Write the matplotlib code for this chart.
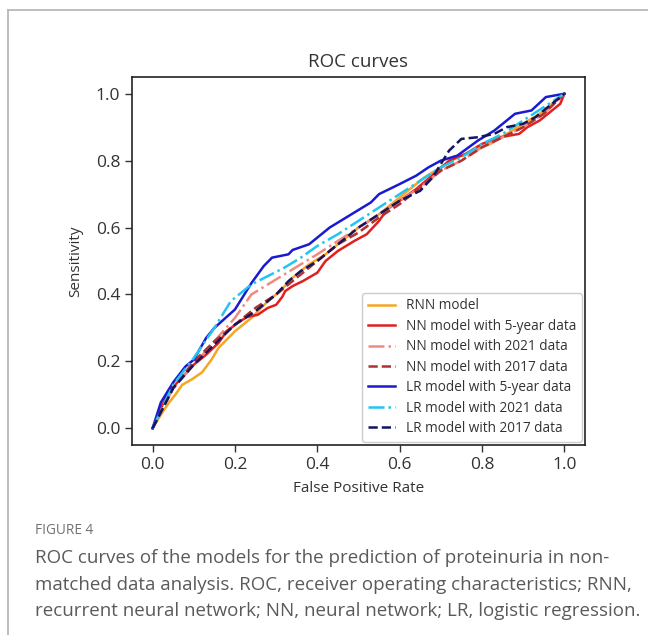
import matplotlib
matplotlib.use("Agg")
import matplotlib.pyplot as plt
from matplotlib.lines import Line2D

# ---- data ----
rnn_x = [0, .024, .04, .055, .072, .095, .12, .143, .16, .20, .24, .28, .31, .34, .38, .42, .46, .50, .54, .58, .62, .66, .70, .74, .78, .82, .86, .90, .94, .97, 1.0]
rnn_y = [0, .048, .077, .10, .13, .146, .167, .205, .24, .29, .33, .38, .41, .45, .49, .52, .56, .60, .63, .67, .71, .75, .78, .81, .83, .85, .88, .91, .94, .97, 1.0]

nn5_x = [0, .02, .04, .07, .10, .13, .16, .18, .21, .23, .255, .28, .30, .315, .322, .34, .365, .40, .42, .45, .49, .52, .55, .57, .60, .64, .685, .72, .76, .80, .84, .89, .91, .94, .97, .99, 1.0]
nn5_y = [0, .06, .11, .15, .19, .22, .255, .29, .318, .333, .339, .36, .369, .393, .41, .425, .44, .465, .50, .53, .56, .58, .62, .655, .68, .715, .762, .80, .82, .85, .869, .88, .90, .92, .95, .97, 1.0]

nn21_x = [0, .05, .10, .15, .20, .24, .28, .32, .36, .40, .45, .50, .55, .60, .65, .70, .75, .80, .85, .90, .95, 1.0]
nn21_y = [0, .12, .19, .26, .33, .40, .43, .46, .49, .52, .56, .60, .64, .68, .72, .77, .80, .84, .87, .90, .94, 1.0]

nn17_x = [0, .05, .10, .15, .20, .25, .30, .35, .40, .45, .50, .55, .60, .65, .70, .75, .80, .85, .90, .95, 1.0]
nn17_y = [0, .12, .20, .26, .31, .36, .40, .45, .50, .55, .585, .63, .67, .72, .77, .80, .84, .87, .90, .94, 1.0]

lr5_x = [0, .02, .05, .08, .10, .13, .15, .20, .24, .27, .29, .33, .34, .38, .43, .49, .53, .55, .60, .64, .67, .70, .74, .79, .83, .88, .92, .955, 1.0]
lr5_y = [0, .077, .137, .185, .205, .27, .30, .355, .434, .485, .51, .52, .533, .55, .60, .645, .675, .70, .73, .755, .78, .80, .815, .86, .89, .94, .95, .99, 1.0]

lr21_x = [0, .05, .10, .15, .19, .24, .28, .32, .36, .40, .45, .50, .55, .60, .65, .70, .75, .80, .85, .90, .95, 1.0]
lr21_y = [0, .13, .21, .30, .38, .43, .455, .48, .51, .545, .58, .62, .66, .70, .74, .78, .81, .85, .88, .92, .96, 1.0]

lr17_x = [0, .05, .10, .15, .20, .25, .30, .33, .36, .40, .45, .50, .55, .60, .65, .68, .72, .75, .79, .83, .86, .90, .93, .96, 1.0]
lr17_y = [0, .12, .19, .25, .31, .35, .40, .44, .47, .50, .55, .60, .64, .68, .71, .75, .83, .865, .87, .88, .90, .91, .93, .96, 1.0]

labels = ["RNN model", "NN model with 5-year data", "NN model with 2021 data",
          "NN model with 2017 data", "LR model with 5-year data",
          "LR model with 2021 data", "LR model with 2017 data"]
xticks = [0.0, 0.2, 0.4, 0.6, 0.8, 1.0]
yticks = [0.0, 0.2, 0.4, 0.6, 0.8, 1.0]

series = [
    (rnn_x, rnn_y, "#f5a623", "-"),
    (nn5_x, nn5_y, "#e02020", "-"),
    (nn21_x, nn21_y, "#f08a80", "-."),
    (nn17_x, nn17_y, "#b03030", "--"),
    (lr5_x, lr5_y, "#1a1ad0", "-"),
    (lr21_x, lr21_y, "#22c4f0", "-."),
    (lr17_x, lr17_y, "#141460", "--"),
]

plt.rcParams['font.family'] = ['Open Sans', 'DejaVu Sans']

fig = plt.figure(figsize=(6.48, 6.35), dpi=100)

# outer frame (top and left edges visible)
fig.add_artist(Line2D([8/648, 1.0], [1-10/635, 1-10/635], transform=fig.transFigure,
                      color="#b8b8b8", lw=1.3))
fig.add_artist(Line2D([8/648, 8/648], [0.0, 1-10/635], transform=fig.transFigure,
                      color="#b8b8b8", lw=1.3))

ax = fig.add_axes([132/648, 1-445/635, (585-132)/648, (445-77)/635])
for (x, y, c, ls), lab in zip(series, labels):
    ax.plot(x, y, color=c, ls=ls, lw=1.8, label=lab)

ax.set_xlim(-0.05, 1.05)
ax.set_ylim(-0.05, 1.05)
ax.set_xticks(xticks)
ax.set_yticks(yticks)
ax.set_xticklabels([f"{v:.1f}" for v in xticks])
ax.set_yticklabels([f"{v:.1f}" for v in yticks])
ax.tick_params(labelsize=12.5, colors="#333333", length=5, width=1)
for s in ax.spines.values():
    s.set_linewidth(1.2)
    s.set_color("#222222")
ax.set_title("ROC curves", fontsize=13.5, color="#333333", pad=7)
ax.set_xlabel("False Positive Rate", fontsize=11, color="#333333", labelpad=6)
ax.set_ylabel("Sensitivity", fontsize=11, color="#333333", labelpad=9)
leg = ax.legend(loc="lower right", fontsize=9.8, borderaxespad=0.25, labelspacing=0.4,
                handlelength=2.0, framealpha=1)
for t in leg.get_texts():
    t.set_color("#333333")

# caption
fig.text(35/648, 1-530/635, "FIGURE 4", fontsize=9.8, color="#707070", va="center")
cap = ["ROC curves of the models for the prediction of proteinuria in non-",
       "matched data analysis. ROC, receiver operating characteristics; RNN,",
       "recurrent neural network; NN, neural network; LR, logistic regression."]
for i, line in enumerate(cap):
    fig.text(35/648, 1-(558+26.5*i)/635, line, fontsize=13.5, color="#5a5a5a", va="center")

fig.savefig("out.png", dpi=100)
